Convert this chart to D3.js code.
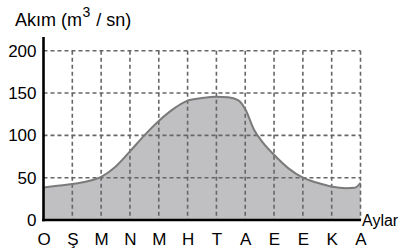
<!DOCTYPE html>
<html>
<head>
<meta charset="utf-8">
<script src="https://cdn.jsdelivr.net/npm/d3@7"></script>
<style>
  body { margin: 0; background: #fff; }
  text { font-family: "Liberation Sans", Arial, sans-serif; fill: #000; }
</style>
</head>
<body>
<div id="viz"></div>
<script>
var width = 405,
    height = 251;

var months = ["O", "Ş", "M", "N", "M", "H", "T", "A", "E", "E", "K", "A"];
var yTicks = [0, 50, 100, 150, 200];

// flow curve (month index, m3/sn)
var flowMonth = [0, 0.5, 1, 1.5, 2, 2.5, 3, 3.5, 4, 4.5, 5, 5.5, 6, 6.4, 6.75, 7, 7.3, 7.6, 8, 8.5, 9, 9.5, 10, 10.5, 10.8, 11];
var flowValue = [38.5, 40.5, 42.5, 45.5, 51, 63, 81, 100, 117, 131, 141, 144, 145.5, 145, 141.5, 131, 107, 92, 77, 61, 50, 44, 39.5, 37.5, 38, 44];

var data = flowMonth.map((m, i) => ({m: m, v: flowValue[i]}));

var x = d3.scaleLinear().domain([0, 11]).range([43.5, 360.5]);
var y = d3.scaleLinear().domain([0, 200]).range([220, 50.7]);

var svg = d3.select('#viz').append('svg')
    .attr('width', width)
    .attr('height', height);

// area under the curve
var area = d3.area()
    .curve(d3.curveMonotoneX)
    .x(d => x(d.m))
    .y0(y(0))
    .y1(d => y(d.v));

var line = d3.line()
    .curve(d3.curveMonotoneX)
    .x(d => x(d.m))
    .y(d => y(d.v));

svg.append('path')
    .datum(data)
    .attr('fill', '#c0c0c2')
    .attr('d', area);

// dashed grid
var grid = svg.append('g')
    .attr('stroke', '#666')
    .attr('stroke-width', 1.6)
    .attr('stroke-dasharray', '4,3');

grid.selectAll('.h')
    .data(yTicks.slice(1))
    .join('line')
    .attr('x1', x(0)).attr('x2', x(11))
    .attr('y1', d => y(d)).attr('y2', d => y(d));

grid.selectAll('.v')
    .data(d3.range(1, 12))
    .join('line')
    .attr('x1', d => x(d)).attr('x2', d => x(d))
    .attr('y1', y(200)).attr('y2', y(0));

svg.append('path')
    .datum(data)
    .attr('fill', 'none')
    .attr('stroke', '#7a7a7a')
    .attr('stroke-width', 2)
    .attr('d', line);

// y axis
var yAxis = d3.axisLeft(y).tickValues(yTicks).tickSize(0).tickPadding(7);
svg.append('g')
    .attr('transform', 'translate(' + x(0) + ',0)')
    .call(yAxis)
    .call(g => g.select('.domain').remove())
    .call(g => g.selectAll('text').attr('font-size', 17).attr('font-family', null));

svg.append('line')
    .attr('x1', x(0)).attr('x2', x(0))
    .attr('y1', 37).attr('y2', y(0) + 1.3)
    .attr('stroke', '#000').attr('stroke-width', 2.6);

// x axis
svg.append('line')
    .attr('x1', x(0) - 1.3).attr('x2', x(11) + 0.5)
    .attr('y1', y(0)).attr('y2', y(0))
    .attr('stroke', '#000').attr('stroke-width', 2.6);

var xAxis = d3.axisBottom(x).tickValues(d3.range(0, 12)).tickFormat(i => months[i]).tickSize(0).tickPadding(13);
svg.append('g')
    .attr('transform', 'translate(0,' + y(0) + ')')
    .call(xAxis)
    .call(g => g.select('.domain').remove())
    .call(g => g.selectAll('text').attr('font-size', 17).attr('font-family', null));

svg.append('text')
    .attr('x', 362)
    .attr('y', 226)
    .attr('font-size', 16)
    .text('Aylar');

// title
var title = svg.append('text')
    .attr('x', 15)
    .attr('y', 25.5)
    .attr('font-size', 18);
title.append('tspan').text('Akım (m');
title.append('tspan').attr('font-size', 14).attr('dy', -9).attr('dx', 0.5).text('3');
title.append('tspan').attr('dy', 9).attr('dx', 1).text(' / sn)');
</script>
</body>
</html>
